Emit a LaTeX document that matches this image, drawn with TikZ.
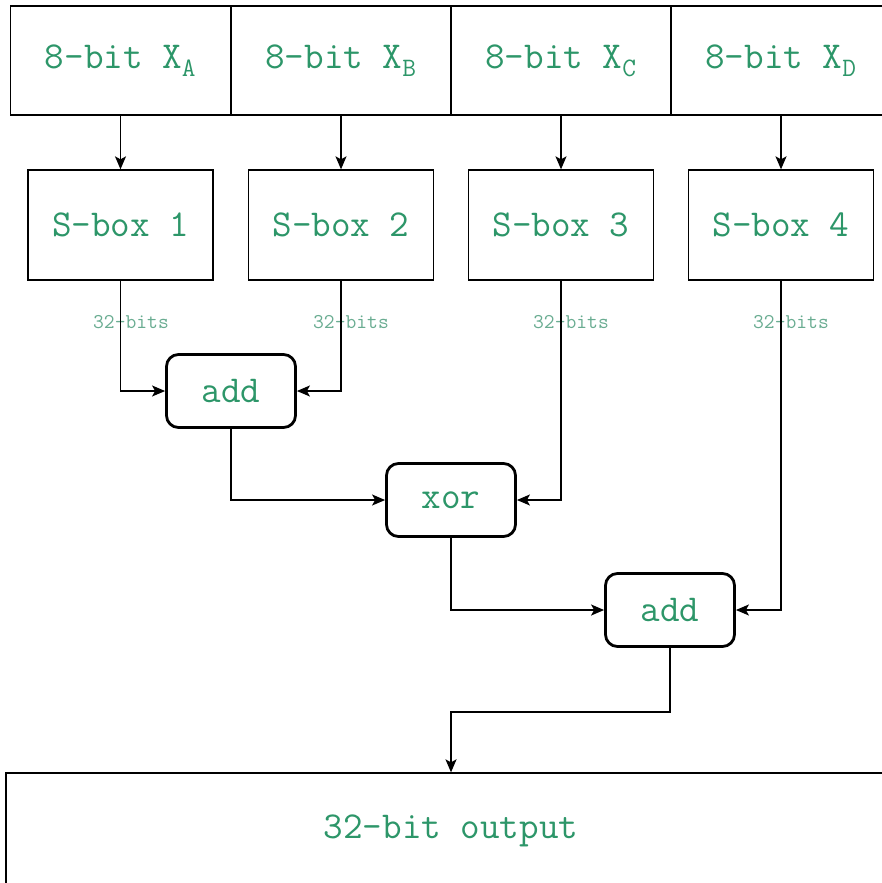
\documentclass[tikz,border=0pt]{standalone}
\usepackage{xcolor}
\usepackage{tikz}
\usetikzlibrary{arrows.meta,positioning}
\definecolor{txtgreen}{RGB}{45,150,105}
\definecolor{bitsgreen}{RGB}{105,172,145}

\begin{document}
\begin{tikzpicture}[
  x=1pt, y=-1pt,
  every node/.style={font=\ttfamily\fontsize{38}{40}\selectfont, text=txtgreen},
  cell/.style={draw, line width=1.3pt, minimum width=220pt, minimum height=109pt, inner sep=0pt},
  sbox/.style={draw, line width=1.3pt, minimum width=185pt, minimum height=110pt, inner sep=0pt},
  op/.style={draw, line width=2.8pt, rounded corners=12pt, minimum width=129pt, minimum height=73pt, inner sep=0pt},
  bitlbl/.style={font=\ttfamily\fontsize{21}{22}\selectfont, text=bitsgreen},
  wire/.style={line width=1.5pt, -{Stealth[length=13pt,width=11pt,inset=3pt]}}
]
\useasboundingbox (0,0) rectangle (881,883);

% input words
\node[cell] (xa) at (120.5,60.5) {8-bit X\textsubscript{A}};
\node[cell] (xb) at (341,60.5) {8-bit X\textsubscript{B}};
\node[cell] (xc) at (561,60.5) {8-bit X\textsubscript{C}};
\node[cell] (xd) at (781,60.5) {8-bit X\textsubscript{D}};

% s-boxes
\node[sbox] (s1) at (120.5,225) {S-box 1};
\node[sbox] (s2) at (341,225) {S-box 2};
\node[sbox] (s3) at (561,225) {S-box 3};
\node[sbox] (s4) at (781,225) {S-box 4};

% operations
\node[op] (add1) at (231,391) {add};
\node[op] (xor) at (451,500) {xor};
\node[op] (add2) at (670,610) {add};

\node[cell, minimum width=890pt, minimum height=116pt] (out) at (451,831) {32-bit output};

% bit widths
\node[bitlbl] (b1) at (131,322) {32-bits};
\node[bitlbl] (b2) at (351,322) {32-bits};
\node[bitlbl] (b3) at (571,322) {32-bits};
\node[bitlbl] (b4) at (791,322) {32-bits};

\draw[wire] (xa) -- (s1);
\draw[wire] (xb) -- (s2);
\draw[wire] (xc) -- (s3);
\draw[wire] (xd) -- (s4);

\draw[wire] (s1.south) |- (add1.west);
\draw[wire] (s2.south) |- (add1.east);
\draw[wire] (add1.south) |- (xor.west);
\draw[wire] (s3.south) |- (xor.east);
\draw[wire] (xor.south) |- (add2.west);
\draw[wire] (s4.south) |- (add2.east);
\draw[wire] (add2.south) -- ++(0,64) -| (out.north);
\end{tikzpicture}
\end{document}
